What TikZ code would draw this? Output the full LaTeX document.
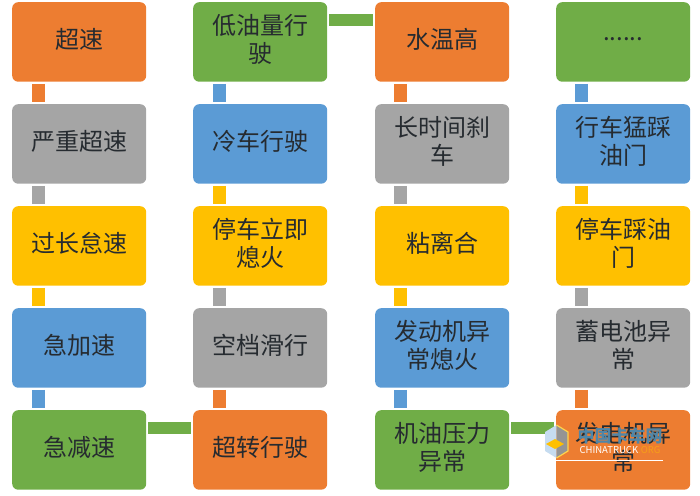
\documentclass[tikz,border=0pt]{standalone}
\usepackage{fontspec}
\setmainfont{Noto Sans CJK SC}
\usetikzlibrary{shapes.geometric}
\definecolor{cO}{HTML}{ED7D31}
\definecolor{cG}{HTML}{A5A5A5}
\definecolor{cY}{HTML}{FFC000}
\definecolor{cB}{HTML}{5B9BD5}
\definecolor{cL}{HTML}{70AD47}
\definecolor{inkT}{HTML}{262B30}
\definecolor{wmT}{HTML}{4F86A8}
\tikzset{
  box/.style={rounded corners=6pt,minimum width=134pt,minimum height=79.5pt,inner sep=0pt,anchor=north west},
  boxtext/.style={inner sep=0pt,align=center,font=\fontsize{24pt}{28pt}\selectfont,text=inkT},
  vlink/.style={line width=13pt},
  hlink/.style={line width=12pt,draw=cL}
}
\begin{document}
\begin{tikzpicture}[x=1pt,y=-1pt]
\useasboundingbox (0,0) rectangle (700,495);
\foreach \n/\x/\y/\c/\t in {
 a1/12/2/cO/超速, a2/12/104/cG/严重超速, a3/12/206/cY/过长怠速, a4/12/308/cB/急加速, a5/12/410/cL/急减速,
 b1/193/2/cL/{低油量行\\驶}, b2/193/104/cB/冷车行驶, b3/193/206/cY/{停车立即\\熄火}, b4/193/308/cG/空档滑行, b5/193/410/cO/超转行驶,
 c1/375/2/cO/水温高, c2/375/104/cG/{长时间刹\\车}, c3/375/206/cY/粘离合, c4/375/308/cB/{发动机异\\常熄火}, c5/375/410/cL/{机油压力\\异常},
 d2/556/104/cB/{行车猛踩\\油门}, d3/556/206/cY/{停车踩油\\门}, d4/556/308/cG/{蓄电池异\\常}, d5/556/410/cO/{发电机异\\常}}
 {\node[box,fill=\c] (\n) at (\x,\y) {};
  \node[boxtext] (\n t) at ([yshift=2.5pt]\n.center) {\t};}
\node[box,fill=cL] (d1) at (556,2) {};
\node[boxtext] (d1t) at ([yshift=2.5pt]d1.center) {......};
\foreach \u/\v/\c/\s in {a1/a2/cO/26,a2/a3/cG/26,a3/a4/cY/26,a4/a5/cB/26,
 b1/b2/cB/26,b2/b3/cY/26,b3/b4/cG/26,b4/b5/cO/26,
 c1/c2/cO/25,c2/c3/cG/25,c3/c4/cY/25,c4/c5/cB/25,
 d1/d2/cB/25,d2/d3/cY/25,d3/d4/cG/25,d4/d5/cO/25}
 {\draw[vlink,draw=\c,shorten >=2pt,shorten <=2pt] ([xshift=\s pt]\u.south west) -- ([xshift=\s pt]\v.north west);}
\draw[hlink,shorten >=2pt,shorten <=2pt] ([yshift=21.5pt]a5.east) -- ([yshift=21.5pt]b5.west);
\draw[hlink,shorten >=2pt,shorten <=2pt] ([yshift=21.5pt]c5.east) -- ([yshift=21.5pt]d5.west);
\draw[hlink,shorten >=2pt,shorten <=2pt] ([yshift=21.5pt]b1.east) -- ([yshift=21.5pt]c1.west);
% watermark
\fill[cB!35!white] (556.5,425) -- (545,432) -- (545,451) -- (556.5,458) -- cycle;
\fill[cG!90!black] (556.5,425) -- (568,432) -- (568,451) -- (556.5,458) -- cycle;
\draw[cY!70!white,line width=1.2pt] (556.5,425) -- (568,432) -- (568,451) -- (556.5,458);
\fill[cY] (546,444) -- (555,439) -- (564,444) -- (555,449) -- cycle;
\node[font=\fontsize{17pt}{17pt}\selectfont\bfseries,text=wmT,inner sep=0pt] (w1) at (620,436) {中国卡车网};
\node[font=\fontsize{9.5pt}{10pt}\selectfont,inner sep=0pt] (w2) at (620,450) {\textcolor{white}{CHINATRUCK}\textcolor{cY!50!cO}{.ORG}};
\coordinate (w3) at (544,460);
\coordinate (w4) at (663,460);
\draw[white,line width=.8pt] (w3) -- (w4);
\end{tikzpicture}
\end{document}
